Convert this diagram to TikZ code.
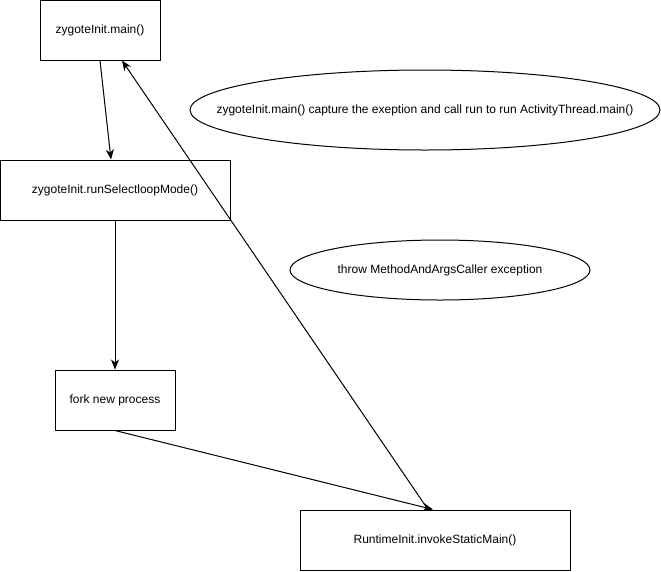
\documentclass[tikz,border=0pt]{standalone}
\usepackage{fontspec}
\setmainfont{Liberation Sans}
\usetikzlibrary{arrows.meta,shapes.geometric}
\begin{document}
\begin{tikzpicture}[x=1pt,y=-1pt,
  box/.style={draw,line width=1pt,minimum height=60pt,inner sep=0pt,font=\fontsize{12}{14}\selectfont},
  oval/.style={draw,line width=1pt,ellipse,inner sep=0pt,font=\fontsize{12}{14}\selectfont},
  conn/.style={line width=1pt,-{Stealth[length=10pt,width=8pt,inset=3pt]}}]
\useasboundingbox (0,0) rectangle (661,571);
\node[box,minimum width=120pt] (b1) at (100,30) {zygoteInit.main()};
\node[box,minimum width=230pt] (b2) at (115,190) {zygoteInit.runSelectloopMode()};
\node[box,minimum width=120pt] (b3) at (115,400) {fork new process};
\node[box,minimum width=270pt] (b4) at (435,540) {RuntimeInit.invokeStaticMain()};
\node[oval,minimum width=470pt,minimum height=80pt] (e1) at (425,110) {\makebox[0pt]{zygoteInit.main() capture the exeption and call run to run ActivityThread.main()}};
\node[oval,minimum width=300pt,minimum height=60pt] (e2) at (440,270) {\makebox[0pt]{throw MethodAndArgsCaller exception}};
\draw[conn] (b1.south) -- ([xshift=-4pt]b2.north);
\draw[conn] (b2.south) -- (b3.north);
\draw[conn] (b3.south) -- ([xshift=-2pt]b4.north);
\draw[conn] ([xshift=-7pt]b4.north) -- ([xshift=22pt]b1.south);
\end{tikzpicture}
\end{document}
